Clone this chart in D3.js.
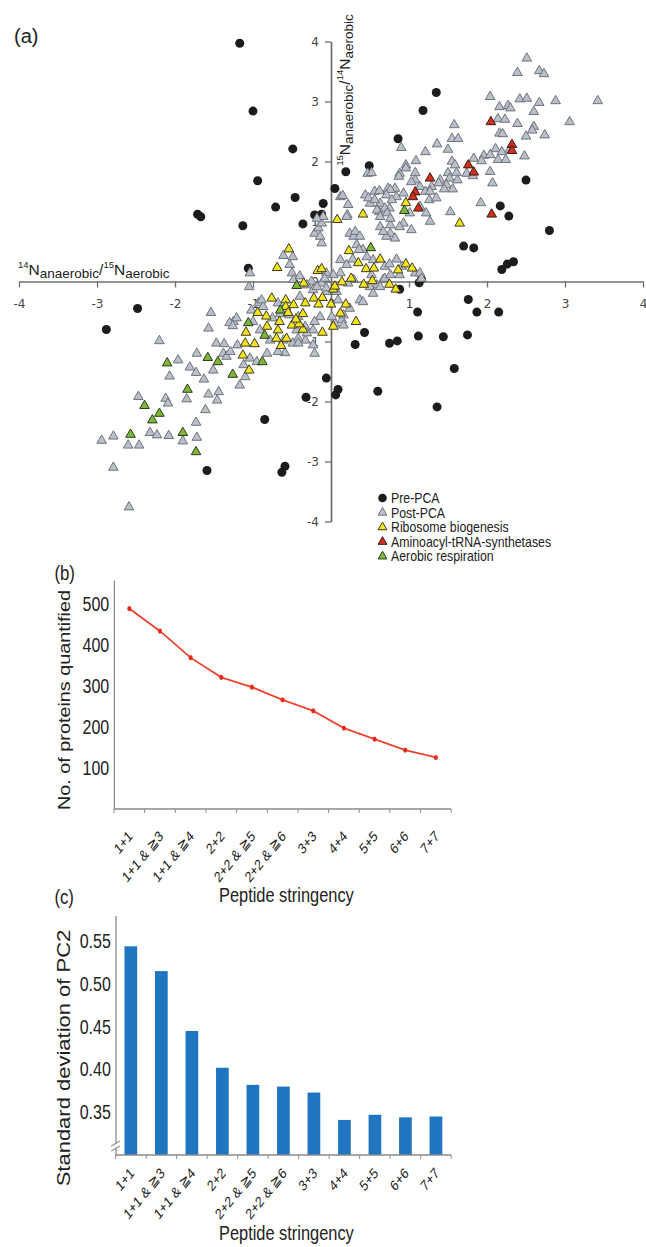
<!DOCTYPE html>
<html><head><meta charset="utf-8">
<script src="https://cdn.jsdelivr.net/npm/d3@7"></script>
<style>body{margin:0;background:#fff} svg{display:block}</style>
</head><body>
<svg id="chart" width="646" height="1247"></svg>
<script>
// ---------- Panel (a) data: [x = 14Nan/15Nae, y = 15Nan/14Nae] ----------
const prePCA = [[-1.17,3.97],[-1.00,2.84],[-0.49,2.21],[-0.94,1.68],[-0.46,1.40],[-1.71,1.12],[-1.67,1.08],[-0.71,1.24],[-0.10,1.30],[-0.21,1.11],[-0.12,1.12],[-0.36,0.96],[-1.13,0.93],[-1.06,0.22],[-2.48,-0.45],[-2.88,-0.80],[0.05,1.55],[0.19,1.83],[0.49,1.93],[0.86,2.38],[1.18,2.85],[1.35,3.15],[2.50,1.69],[2.17,1.26],[2.28,1.09],[2.80,0.85],[1.70,0.59],[1.83,0.56],[2.19,0.20],[2.26,0.29],[2.34,0.33],[1.16,0.04],[1.13,-0.02],[0.88,-0.13],[1.76,-0.30],[1.11,-0.51],[1.87,-0.51],[2.15,-0.51],[0.43,-0.85],[0.31,-1.05],[0.75,-1.03],[0.85,-0.99],[1.12,-0.91],[1.44,-0.92],[1.75,-0.89],[-0.06,-1.61],[0.09,-1.80],[0.06,-1.89],[-0.32,-1.93],[0.60,-1.83],[1.58,-1.45],[1.36,-2.09],[-0.85,-2.30],[-1.59,-3.15],[-0.59,-3.08],[-0.63,-3.18]];
const postPCA = [[2.51,3.72],[2.39,3.48],[2.67,3.51],[2.73,3.46],[2.04,3.08],[2.42,3.04],[2.51,3.05],[2.16,2.91],[2.27,2.93],[2.30,2.89],[2.67,2.98],[2.88,3.01],[3.42,3.01],[2.60,2.83],[2.14,2.71],[2.23,2.70],[2.39,2.63],[2.60,2.58],[3.06,2.66],[2.16,2.47],[2.20,2.46],[2.50,2.42],[2.74,2.44],[2.58,2.52],[1.58,2.61],[1.55,2.38],[1.63,2.38],[1.36,2.29],[0.90,2.23],[1.50,2.20],[1.21,2.16],[2.11,2.21],[2.19,2.16],[2.29,2.20],[1.96,2.10],[2.04,2.11],[2.14,2.03],[2.24,2.03],[2.48,2.09],[1.55,2.00],[1.59,1.94],[1.83,2.05],[1.93,2.01],[0.96,1.94],[1.09,2.01],[0.88,1.80],[1.08,1.81],[0.47,1.80],[0.52,1.81],[1.50,1.81],[1.61,1.81],[1.74,1.80],[2.04,1.83],[1.08,1.69],[1.03,1.66],[1.40,1.69],[1.52,1.72],[1.62,1.69],[1.82,1.76],[2.07,1.64],[0.73,1.55],[0.82,1.55],[1.14,1.58],[1.21,1.50],[1.38,1.64],[1.48,1.61],[1.56,1.54],[0.44,1.44],[0.56,1.50],[0.62,1.51],[0.12,1.41],[0.84,1.41],[0.93,1.47],[0.96,1.89],[0.87,1.75],[1.45,1.54],[1.29,1.58],[0.76,1.53],[0.71,1.44],[1.27,1.50],[1.26,1.36],[1.35,1.39],[1.92,1.31],[0.50,1.30],[0.63,1.30],[0.78,1.36],[0.75,1.22],[1.14,1.25],[1.22,1.14],[1.53,1.16],[0.62,1.16],[0.21,1.11],[1.01,1.14],
[-0.21,0.80],[-0.16,0.89],[-0.12,0.64],[0.15,1.43],[0.22,1.28],[0.24,0.80],[0.29,0.75],[0.31,0.83],[0.37,0.75],[0.33,0.61],[0.41,0.53],[0.48,1.39],[0.56,1.36],[0.59,1.19],[0.63,1.08],[0.69,1.22],[0.72,1.14],[0.76,0.94],[0.76,0.80],[0.82,0.72],[0.71,0.75],[0.63,0.91],[0.67,0.83],[0.93,0.97],[1.03,0.86],[1.27,1.00],[0.12,0.36],[0.20,0.28],[0.28,0.37],[0.36,0.53],[0.46,0.41],[0.54,0.36],[0.69,0.25],[0.75,0.29],[0.84,0.37],[0.91,0.25],[1.08,0.14],[1.14,0.14],[1.16,0.05],[0.67,0.03],[0.59,-0.06],[0.50,-0.09],[0.29,0.03],[0.22,-0.03],[0.12,0.14],[0.03,0.11],[-0.06,0.14],[-0.12,-0.03],[-0.25,0.00],[-0.23,-0.14],[-0.06,-0.17],[0.07,-0.17],[0.09,-0.31],[0.37,-0.31],[0.24,-0.45],[0.14,-0.64],[0.05,-0.70],[-0.14,-0.59],[-0.21,-0.67],[-0.33,-0.75],[-0.23,-0.81],[-0.33,-0.98],[-0.23,-1.06],[-0.21,-1.20],[0.52,0.11],[0.69,0.05],[0.88,0.11],[0.76,0.11],
[-0.12,0.97],[-0.10,1.08],[-0.18,1.05],[-0.14,0.75],[0.20,1.08],[0.76,1.05],[0.88,0.91],
[-0.61,0.43],[-0.49,0.41],[-0.53,0.28],[-0.50,0.14],[-1.04,0.14],[-1.05,-0.09],[-1.54,-0.52],[-1.57,-0.78],[-1.25,-0.67],[-1.21,-0.61],[-1.30,-0.69],[-1.26,-0.74],[-1.02,-0.48],[-0.93,-0.36],[-0.87,-0.42],[-0.68,-0.36],[-0.40,-0.25],[-0.48,0.03],[-0.40,0.09],[-0.31,-0.06],[-0.18,-0.09],[-0.08,0.05],[-0.06,-0.11],[0.01,-0.59],[0.16,-0.56],[0.54,-0.20],[0.63,-0.09],[0.41,-0.34],[0.16,-0.73],[-0.89,-0.31],[-1.00,-0.67],[-0.75,-0.61],[-0.65,-0.54],[-0.53,-0.56],[-0.42,-0.59],[-0.42,-0.95],[-0.49,-1.03],[-1.72,-1.20],[-1.96,-1.31],[-2.20,-0.99],[-1.47,-1.03],[-1.37,-1.04],[-1.20,-1.06],
[-0.91,-0.81],[-0.82,-1.20],[-0.61,-0.98],[-0.42,-1.03],[-0.44,-0.81],[-0.31,-0.86],[-0.78,-0.98],
[-1.81,-1.43],[-1.73,-1.52],[-2.07,-1.58],[-1.63,-1.63],[-1.51,-1.48],[-1.38,-1.20],[-1.34,-1.25],[-1.29,-1.17],[-1.17,-1.73],[-1.12,-1.39],[-1.04,-1.28],[-0.95,-1.34],[-2.47,-1.92],[-2.12,-1.95],[-2.09,-2.03],[-1.85,-1.96],[-1.57,-1.88],[-1.44,-1.84],[-1.46,-1.98],[-1.61,-2.14],[-1.73,-2.35],[-2.32,-2.52],[-2.23,-2.56],[-2.08,-2.57],[-2.94,-2.65],[-2.79,-2.58],[-2.60,-2.73],[-2.46,-2.73],[-1.72,-2.60],[-1.90,-2.66],[-2.79,-3.10],[-2.59,-3.76],[-1.10,-1.59],[-0.59,-1.19],[-0.68,-1.17]];
const ribosome = [[0.96,1.31],[0.41,1.12],[0.08,1.03],[1.65,0.97],[0.23,0.51],[0.35,0.31],[0.45,0.21],[0.55,0.22],[0.63,0.37],[0.86,0.19],[0.96,0.29],[1.04,0.22],[-0.17,0.18],[-0.12,0.21],[-0.35,-0.03],[0.03,-0.13],[0.05,-0.08],[0.14,-0.01],[0.26,0.05],[0.42,-0.05],[0.53,0.01],[0.75,-0.05],[0.83,-0.13],[-0.22,-0.28],[-0.11,-0.27],[0.00,-0.38],[-0.16,-0.38],[0.19,-0.38],[0.12,-0.53],[0.32,-0.67],[0.03,-0.75],[-0.11,-0.85],[-0.36,-0.54],[-0.36,-0.80],[-0.54,0.54],[-0.69,0.23],[-0.76,-0.28],[-0.58,-0.31],[-0.94,-0.52],[-0.83,-0.58],[-0.58,-0.42],[-0.66,-0.67],[-0.50,-0.73],[-0.41,-0.71],[-0.48,-0.39],[-1.09,-0.85],[-0.98,-1.04],[-0.70,-0.95],[-0.68,-0.81],[-1.10,-1.03],[-0.82,-0.75],[-0.55,-0.52],[-0.45,-0.63],[-0.57,-0.95],[-0.64,-1.07],[-1.13,-1.23],[-1.05,-1.48],[-0.33,-0.36]];
const aminoacyl = [[2.05,2.66],[2.32,2.28],[2.32,2.18],[1.76,1.94],[1.83,1.82],[1.27,1.72],[1.08,1.49],[1.05,1.41],[1.12,1.22],[2.06,1.12]];
const aerobic = [[0.94,1.18],[0.51,0.56],[-0.44,-0.07],[-0.65,-0.48],[-1.06,-0.69],[-0.85,-0.90],[-1.58,-1.27],[-2.10,-1.36],[-1.45,-1.34],[-1.26,-1.55],[-0.88,-1.34],[-1.84,-1.80],[-2.39,-2.07],[-2.20,-2.20],[-2.29,-2.31],[-2.57,-2.55],[-1.90,-2.52],[-1.73,-2.84]];
const legendLabels = ["Pre-PCA","Post-PCA","Ribosome biogenesis","Aminoacyl-tRNA-synthetases","Aerobic respiration"];
const scatterTicks = [-4,-3,-2,-1,0,1,2,3,4];

// ---------- Panels (b) and (c) data ----------
const stringency = ["1+1","1+1 & \u22673","1+1 & \u22674","2+2","2+2 & \u22675","2+2 & \u22676","3+3","4+4","5+5","6+6","7+7"];
const proteinsQuantified = [490,435,370,322,298,267,240,198,171,144,126];
const proteinTicks = [100,200,300,400,500];
const sdPC2 = [0.544,0.515,0.445,0.402,0.382,0.380,0.373,0.341,0.347,0.344,0.345];
const sdTicks = [0.35,0.40,0.45,0.50,0.55];

const svg = d3.select("#chart");
const SANS = "'Liberation Sans', Arial, Helvetica, sans-serif";

// ================= Panel (a) =================
const xA = d3.scaleLinear().domain([-4,4]).range([19,643]);
const yA = d3.scaleLinear().domain([-4,4]).range([521.5,41.5]);
const gA = svg.append("g");

svg.append("text").attr("x",14).attr("y",43).attr("font-family",SANS).attr("font-size",20).attr("fill","#222").text("(a)");

const axXA = gA.append("g").attr("transform",`translate(0,${yA(0)})`)
  .call(d3.axisBottom(xA).tickValues(scatterTicks).tickSize(6).tickSizeOuter(0).tickPadding(12).tickFormat(d=>String(d)));
const axYA = gA.append("g").attr("transform",`translate(${xA(0)},0)`)
  .call(d3.axisLeft(yA).tickValues(scatterTicks).tickSize(6).tickSizeOuter(0).tickPadding(6).tickFormat(d=>String(d)));
[axXA, axYA].forEach(g=>{
  g.select(".domain").attr("stroke","#6e6e6e").attr("stroke-width",1.7);
  g.selectAll(".tick line").attr("stroke","#6e6e6e").attr("stroke-width",1.3);
  g.selectAll(".tick text").attr("font-family","'DejaVu Sans', Verdana, sans-serif").attr("font-size",12).attr("fill","#444");
});

function ratioTitle(sel, a, b){
  sel.append("tspan").attr("font-size",9.5).attr("dy",-7).text(a[0]);
  sel.append("tspan").attr("font-size",15.5).attr("dy",7).text("N");
  sel.append("tspan").attr("font-size",13.5).attr("dy",3).text(a[1]);
  sel.append("tspan").attr("font-size",15.5).attr("dy",-3).text("/");
  sel.append("tspan").attr("font-size",9.5).attr("dy",-7).text(b[0]);
  sel.append("tspan").attr("font-size",15.5).attr("dy",7).text("N");
  sel.append("tspan").attr("font-size",13.5).attr("dy",3).text(b[1]);
}
const xtA = gA.append("text").attr("x",18).attr("y",275).attr("font-family",SANS).attr("fill","#222");
ratioTitle(xtA, ["14","anaerobic"], ["15","aerobic"]);
const ytA = gA.append("text").attr("transform","translate(350,90) rotate(-90)").attr("text-anchor","middle").attr("font-family",SANS).attr("fill","#222");
ratioTitle(ytA, ["15","anaerobic"], ["14","aerobic"]);

const tri = d3.symbol(d3.symbolTriangle, 40);
gA.append("g").selectAll("circle").data(prePCA).join("circle")
  .attr("cx",d=>xA(d[0])).attr("cy",d=>yA(d[1])).attr("r",4.5).attr("fill","#1c1c1c");
function triangles(data, fill, stroke){
  gA.append("g").selectAll("path").data(data).join("path")
    .attr("d",tri).attr("transform",d=>`translate(${xA(d[0])},${yA(d[1])})`)
    .attr("fill",fill).attr("stroke",stroke).attr("stroke-width",1);
}
triangles(postPCA, "#b9c0cb", "#6f737a");
triangles(ribosome, "#f3e31e", "#3c3a25");
triangles(aminoacyl, "#d2301f", "#3a1a16");
triangles(aerobic, "#7db83a", "#2c3a1c");

// legend
const legFill = [null,"#b9c0cb","#f3e31e","#d2301f","#7db83a"];
const legStroke = [null,"#6f737a","#3c3a25","#3a1a16","#2c3a1c"];
const leg = svg.append("g").attr("transform","translate(382.5,498)");
legendLabels.forEach((lab,i)=>{
  const row = leg.append("g").attr("transform",`translate(0,${i*14.6})`);
  if(i===0) row.append("circle").attr("r",4.3).attr("fill","#1c1c1c");
  else row.append("path").attr("d",d3.symbol(d3.symbolTriangle,34)).attr("fill",legFill[i]).attr("stroke",legStroke[i]).attr("stroke-width",1);
  row.append("text").attr("transform","translate(8.5,0) scale(0.88,1)").attr("dy","0.36em")
    .attr("font-family",SANS).attr("font-size",14).attr("fill","#222").text(lab);
});

// ================= shared helpers for (b)/(c) =================
function categoryAxis(g, band, y0, labelDy){
  g.append("line").attr("x1",band.range()[0]).attr("x2",band.range()[1]).attr("y1",y0).attr("y2",y0)
    .attr("stroke","#8a8a8a").attr("stroke-width",1.6);
  const edges = stringency.map(d=>band(d)).concat([band.range()[1]]);
  g.selectAll("line.tk").data(edges).join("line").attr("class","tk")
    .attr("x1",d=>d).attr("x2",d=>d).attr("y1",y0).attr("y2",y0+4).attr("stroke","#8a8a8a").attr("stroke-width",1.2);
  g.selectAll("text.cl").data(stringency).join("text").attr("class","cl")
    .attr("transform",d=>`translate(${band(d)+band.bandwidth()/2+5},${y0+labelDy}) rotate(-45)`)
    .attr("text-anchor","end").attr("font-family",SANS).attr("font-size",15).attr("fill","#222").text(d=>d);
}
function valueAxis(g, scale, x0, ticks, fmt){
  const ax = g.append("g").attr("transform",`translate(${x0},0)`)
    .call(d3.axisLeft(scale).tickValues(ticks).tickSize(0).tickSizeOuter(0).tickPadding(6).tickFormat(fmt));
  ax.select(".domain").attr("stroke","#8a8a8a").attr("stroke-width",1.6);
  ax.selectAll(".tick text").attr("font-family",SANS).attr("font-size",20).attr("fill","#222");
  return ax;
}
// panels (b) and (c) are laid out horizontally condensed, as in the original figure
const condensed = svg.append("g").attr("transform","scale(0.8,1)");

// ================= Panel (b) =================
const gB = condensed.append("g");
const xB = d3.scaleBand().domain(stringency).range([142.5,564]);
const yB = d3.scaleLinear().domain([0,560]).range([809,580]);
gB.append("text").attr("x",68).attr("y",580).attr("font-family",SANS).attr("font-size",21).attr("fill","#222").text("(b)");
valueAxis(gB, yB, 142.5, proteinTicks, d3.format("d"));
categoryAxis(gB, xB, 809, 28);
gB.append("text").attr("transform","translate(87,700) rotate(-90)").attr("text-anchor","middle")
  .attr("font-family",SANS).attr("font-size",19.8).attr("fill","#222").text("No. of proteins quantified");
gB.append("text").attr("x",358).attr("y",902).attr("text-anchor","middle")
  .attr("font-family",SANS).attr("font-size",20.5).attr("fill","#222").text("Peptide stringency");
const lineB = d3.line().x((d,i)=>xB(stringency[i])+xB.bandwidth()/2).y(d=>yB(d));
gB.append("path").datum(proteinsQuantified).attr("d",lineB).attr("fill","none").attr("stroke","#f0402c").attr("stroke-width",1.8);
gB.selectAll("circle").data(proteinsQuantified).join("circle")
  .attr("cx",(d,i)=>xB(stringency[i])+xB.bandwidth()/2).attr("cy",d=>yB(d)).attr("r",2.6).attr("fill","#e82a1e");

// ================= Panel (c) =================
const gC = condensed.append("g");
const xC = d3.scaleBand().domain(stringency).range([144.5,564]);
const xCbar = d3.scaleBand().domain(stringency).range([144.5,564]).paddingInner(0.584).paddingOuter(0.292);
const yC = d3.scaleLinear().domain([0.30,0.58]).range([1155,915.5]);
gC.append("text").attr("x",68).attr("y",904).attr("font-family",SANS).attr("font-size",21).attr("fill","#222").text("(c)");
gC.selectAll("rect").data(sdPC2).join("rect")
  .attr("x",(d,i)=>xCbar(stringency[i])).attr("width",xCbar.bandwidth())
  .attr("y",d=>yC(d)).attr("height",d=>yC(0.30)-yC(d)).attr("fill","#1f75bf");
valueAxis(gC, yC, 144.5, sdTicks, d3.format(".2f"));
categoryAxis(gC, xC, 1155, 19);
const bk = yC(0.30)-8;
gC.append("rect").attr("x",139).attr("y",bk-3).attr("width",11).attr("height",5).attr("fill","#fff");
gC.append("line").attr("x1",139).attr("y1",bk-1).attr("x2",150).attr("y2",bk-6).attr("stroke","#8a8a8a").attr("stroke-width",1.2);
gC.append("line").attr("x1",139).attr("y1",bk+4).attr("x2",150).attr("y2",bk-1).attr("stroke","#8a8a8a").attr("stroke-width",1.2);
gC.append("text").attr("transform","translate(87,1058) rotate(-90)").attr("text-anchor","middle")
  .attr("font-family",SANS).attr("font-size",22).attr("fill","#222").text("Standard deviation of PC2");
gC.append("text").attr("x",358).attr("y",1240).attr("text-anchor","middle")
  .attr("font-family",SANS).attr("font-size",20.5).attr("fill","#222").text("Peptide stringency");
</script>
</body></html>
